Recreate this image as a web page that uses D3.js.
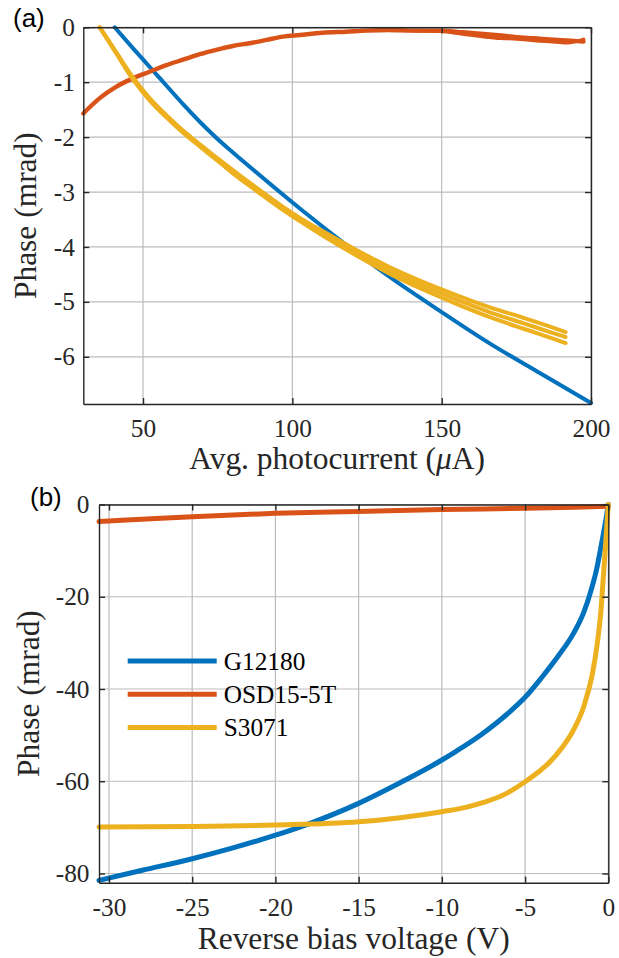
<!DOCTYPE html>
<html>
<head>
<meta charset="utf-8">
<script src="https://cdn.jsdelivr.net/npm/d3@7/dist/d3.min.js"></script>
<style>
  html, body { margin: 0; padding: 0; background: #fff; }
  svg { display: block; }
  .axis path, .axis line { stroke: #262626; stroke-width: 1.4px; }
  .grid line { stroke: #bcbcbc; stroke-width: 1.2px; }
  .panel-tag { font-family: 'Liberation Sans', Arial, sans-serif; font-size: 26px; fill: #000; }
</style>
</head>
<body>
<div id="chart"></div>
<script>
var SERIES_NAMES = ['G12180', 'OSD15-5T', 'S3071'];
var SERIES_COLORS = ['#0072bd', '#d95319', '#edb120'];

// (a) phase vs avg. photocurrent, [uA, mrad]; several sweeps overlap for OSD15-5T and S3071
var currentTicks = [50, 100, 150, 200];
var phaseTicksA = [0, -1, -2, -3, -4, -5, -6];
var g12180A = [[40.5, 0], [46.6, -0.38], [52.2, -0.72], [57.8, -1.06], [63.4, -1.4], [69, -1.72],
  [74.5, -2.01], [80.1, -2.28], [85.7, -2.54], [102.5, -3.3], [117, -3.92],
  [132.7, -4.55], [149, -5.15], [166.2, -5.76], [183, -6.3], [200, -6.84]];
var osd15A = [[30, -1.57], [35.5, -1.29], [41.1, -1.08], [46.6, -0.93], [52.2, -0.81], [57.8, -0.69],
  [63.4, -0.59], [69, -0.49], [74.5, -0.41], [80.1, -0.34], [85.7, -0.29], [91.3, -0.23],
  [96.9, -0.17], [102.5, -0.14], [110, -0.1], [118, -0.08], [125, -0.06], [132, -0.05],
  [140, -0.06], [149.4, -0.06], [157, -0.09], [164, -0.12], [170, -0.15], [175.1, -0.18],
  [181, -0.2], [186.3, -0.22], [192, -0.24], [197.5, -0.26]];
var osd15A2 = [[140, -0.06], [149.4, -0.07], [157, -0.12], [164, -0.17], [170, -0.2], [175.1, -0.21],
  [181, -0.24], [186.3, -0.26], [192, -0.28], [197.5, -0.22]];
var s3071A = [[35.5, 0], [41.1, -0.47], [46.6, -0.93], [52.2, -1.31], [57.8, -1.62], [63.4, -1.9],
  [69, -2.15], [74.5, -2.39], [80.1, -2.63], [85.7, -2.86], [91.3, -3.08], [96.9, -3.3],
  [102.5, -3.5], [110.4, -3.76], [121.6, -4.11], [132.7, -4.43], [143.9, -4.71], [155.1, -4.96],
  [166.2, -5.19], [177.4, -5.39], [186.3, -5.55], [191.5, -5.64]];
var s3071A2 = [[35.5, 0], [41.1, -0.46], [46.6, -0.91], [52.2, -1.29], [57.8, -1.6], [63.4, -1.88],
  [69, -2.13], [74.5, -2.37], [80.1, -2.6], [85.7, -2.83], [91.3, -3.05], [96.9, -3.27],
  [102.5, -3.47], [110.4, -3.72], [121.6, -4.06], [132.7, -4.37], [143.9, -4.64], [155.1, -4.88],
  [166.2, -5.1], [177.4, -5.29], [186.3, -5.45], [191.5, -5.55]];
var s3071A3 = [[35.5, 0], [41.1, -0.48], [46.6, -0.95], [52.2, -1.33], [57.8, -1.64], [63.4, -1.92],
  [69, -2.17], [74.5, -2.41], [80.1, -2.66], [85.7, -2.89], [91.3, -3.11], [96.9, -3.33],
  [102.5, -3.53], [110.4, -3.8], [121.6, -4.16], [132.7, -4.49], [143.9, -4.78], [155.1, -5.04],
  [166.2, -5.28], [177.4, -5.49], [186.3, -5.65], [191.5, -5.75]];

// (b) phase vs reverse bias, [V, mrad]
var biasTicks = [-30, -25, -20, -15, -10, -5, 0];
var phaseTicksB = [0, -20, -40, -60, -80];
var g12180B = [[-30.6, -81.5], [-28, -79.3], [-25, -76.8], [-22.5, -74.4], [-20, -71.7],
  [-18.2, -69.5], [-15, -64.8], [-12.6, -60.5], [-10, -55.4], [-9.1, -53.4], [-7.6, -49.8],
  [-6, -45.2], [-5, -41.8], [-4, -37.5], [-3, -32.8], [-2.1, -28], [-1.5, -23.6], [-1.1, -19.4],
  [-0.7, -14], [-0.4, -8.4], [-0.1, -2.3], [0, 0]];
var osd15B = [[-30.6, -3.7], [-28, -3.2], [-25, -2.64], [-20, -1.91], [-15, -1.5],
  [-10, -1.1], [-5, -0.83], [-2, -0.6], [0, -0.4]];
var s3071B = [[-30.6, -69.9], [-25, -69.8], [-20, -69.5], [-15, -68.8], [-12.5, -67.9],
  [-10, -66.6], [-8.5, -65.6], [-7.5, -64.6], [-6.2, -62.8], [-5, -60.1], [-4.2, -58],
  [-3.5, -55.8], [-2.8, -52.8], [-2.2, -49.6], [-1.45, -43.5], [-0.96, -36.8], [-0.65, -29.8],
  [-0.45, -23.3], [-0.3, -15.8], [-0.15, -8], [0, 0]];

(function () {
  'use strict';

  var W = 619, H = 958;
  var TICK = 6;

  var FONT = pickFont(['Liberation Serif', 'Times New Roman', 'Tinos', 'DejaVu Serif', 'Noto Serif']);
  //size the text so '100' is as wide as in the reference
  var TICK_FONT = 26 * 38 / textWidth('100', FONT, 26);
  var LABEL_FONT = 29 * Math.min(
    315 / textWidth('Avg. photocurrent (\u03bcA)', FONT, 29),
    200 / textWidth('Phase (mrad)', FONT, 29),
    312 / textWidth('Reverse bias voltage (V)', FONT, 29));

  var svg = d3.select('#chart').append('svg')
    .attr('width', W)
    .attr('height', H);

  drawPanel({
    box: {left: 83.3, right: 591, top: 27.3, bottom: 404},
    xDomain: [30, 200], yDomain: [-6.86, 0],
    xTicks: currentTicks, yTicks: phaseTicksA,
    series: [[g12180A, 0, 4], [osd15A, 1, 4.4], [osd15A2, 1, 3.6],
      [s3071A, 2, 4], [s3071A2, 2, 4], [s3071A3, 2, 4]],
    yPad: 8.5,
    xLabel: 'Avg. photocurrent (', xLabelMu: true, xLabelY: 469,
    yLabelX: 36,
    tag: '(a)', tagX: 13, tagY: 27
  });

  drawPanel({
    box: {left: 99, right: 608.3, top: 504.5, bottom: 882.7},
    xDomain: [-30.6, 0], yDomain: [-82, 0],
    xTicks: biasTicks, yTicks: phaseTicksB,
    series: [[g12180B, 0, 5], [osd15B, 1, 5], [s3071B, 2, 5]],
    yPad: 9.5,
    xLabel: 'Reverse bias voltage (V)', xLabelY: 949,
    yLabelX: 39,
    tag: '(b)', tagX: 30, tagY: 506,
    legend: {x1: 127.7, x2: 216.7, y: 661, step: 33.2}
  });

  function pickFont(list) {
    var ctx = document.createElement('canvas').getContext('2d');
    var probe = 'mmmmmiiiiilllWQ0123456789';
    ctx.font = '40px monospace';
    var base = ctx.measureText(probe).width;
    for (var i = 0; i < list.length; i++) {
      ctx.font = '40px "' + list[i] + '", monospace';
      if (Math.abs(ctx.measureText(probe).width - base) > 0.5) {
        return list[i];
      }
    }
    return 'serif';
  }

  function textWidth(str, family, size) {
    var ctx = document.createElement('canvas').getContext('2d');
    ctx.font = size + 'px "' + family + '", serif';
    return ctx.measureText(str).width;
  }

  function styleText(sel, size) {
    sel.attr('font-family', '"' + FONT + '", serif')
      .attr('font-size', size)
      .attr('fill', '#262626');
  }

  function drawPanel(p) {
    var b = p.box;
    var x = d3.scaleLinear().domain(p.xDomain).range([b.left, b.right]);
    var y = d3.scaleLinear().domain(p.yDomain).range([b.bottom, b.top]);
    var fmt = function (d) { return String(d); };

    //grid
    var grid = svg.append('g').attr('class', 'grid');
    grid.selectAll('line.gx').data(p.xTicks).enter().append('line')
      .attr('x1', function (d) { return x(d); }).attr('x2', function (d) { return x(d); })
      .attr('y1', b.top).attr('y2', b.bottom);
    grid.selectAll('line.gy').data(p.yTicks).enter().append('line')
      .attr('y1', function (d) { return y(d); }).attr('y2', function (d) { return y(d); })
      .attr('x1', b.left).attr('x2', b.right);

    //curves: [points, colour index, width]
    var line = d3.line()
      .x(function (d) { return x(d[0]); })
      .y(function (d) { return y(d[1]); })
      .curve(d3.curveMonotoneX);

    p.series.forEach(function (s) {
      svg.append('path')
        .datum(s[0])
        .attr('fill', 'none')
        .attr('stroke', SERIES_COLORS[s[1]])
        .attr('stroke-width', s[2])
        .attr('stroke-linecap', 'round')
        .attr('stroke-linejoin', 'round')
        .attr('d', line);
    });

    //box axes, ticks pointing inward
    var bottom = svg.append('g').attr('class', 'axis')
      .attr('transform', 'translate(0,' + b.bottom + ')')
      .call(d3.axisBottom(x).tickValues(p.xTicks).tickFormat(fmt)
        .tickSizeInner(-TICK).tickSizeOuter(0).tickPadding(15.5));
    svg.append('g').attr('class', 'axis')
      .attr('transform', 'translate(0,' + b.top + ')')
      .call(d3.axisTop(x).tickValues(p.xTicks).tickFormat('')
        .tickSizeInner(-TICK).tickSizeOuter(0));
    var left = svg.append('g').attr('class', 'axis')
      .attr('transform', 'translate(' + b.left + ',0)')
      .call(d3.axisLeft(y).tickValues(p.yTicks).tickFormat(fmt)
        .tickSizeInner(-TICK).tickSizeOuter(0).tickPadding(p.yPad));
    svg.append('g').attr('class', 'axis')
      .attr('transform', 'translate(' + b.right + ',0)')
      .call(d3.axisRight(y).tickValues(p.yTicks).tickFormat('')
        .tickSizeInner(-TICK).tickSizeOuter(0));
    styleText(bottom.selectAll('text'), TICK_FONT);
    styleText(left.selectAll('text'), TICK_FONT);

    //axis labels
    var xl = svg.append('text')
      .attr('x', (b.left + b.right) / 2)
      .attr('y', p.xLabelY)
      .attr('text-anchor', 'middle');
    styleText(xl, LABEL_FONT);
    if (p.xLabelMu) {
      xl.append('tspan').text(p.xLabel);
      xl.append('tspan').attr('font-style', 'italic').text('\u03bc');
      xl.append('tspan').text('A)');
    } else {
      xl.text(p.xLabel);
    }

    var yl = svg.append('text')
      .attr('transform', 'translate(' + p.yLabelX + ',' + ((b.top + b.bottom) / 2) + ') rotate(-90)')
      .attr('text-anchor', 'middle')
      .text('Phase (mrad)');
    styleText(yl, LABEL_FONT);

    svg.append('text').attr('class', 'panel-tag')
      .attr('x', p.tagX)
      .attr('y', p.tagY)
      .text(p.tag);

    if (p.legend) {
      var lg = svg.append('g').attr('class', 'legend');
      SERIES_NAMES.forEach(function (name, i) {
        var ly = p.legend.y + i * p.legend.step;
        lg.append('line')
          .attr('x1', p.legend.x1).attr('x2', p.legend.x2)
          .attr('y1', ly).attr('y2', ly)
          .attr('stroke', SERIES_COLORS[i])
          .attr('stroke-width', 5);
        var t = lg.append('text')
          .attr('x', p.legend.x2 + 7)
          .attr('y', ly)
          .attr('dy', '0.35em')
          .text(name);
        styleText(t, TICK_FONT);
        t.attr('fill', '#000');
      });
    }
  }
})();
</script>
</body>
</html>
